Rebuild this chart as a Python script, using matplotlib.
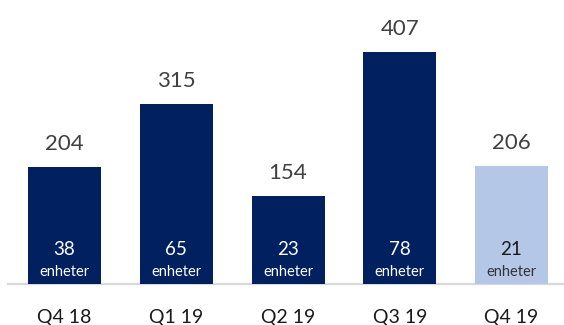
import matplotlib
matplotlib.use("Agg")
import matplotlib.pyplot as plt

categories = ["Q4 18", "Q1 19", "Q2 19", "Q3 19", "Q4 19"]
values = [204, 315, 154, 407, 206]
units = [38, 65, 23, 78, 21]

navy = "#002060"
light = "#B4C7E7"
bar_colors = [navy, navy, navy, navy, light]
num_colors = ["white"] * 4 + ["#1a1a1a"]
unit_colors = ["white"] * 4 + ["#333333"]

plt.rcParams['font.family'] = ['Lato', 'DejaVu Sans']

W, H = 564, 325
fig = plt.figure(figsize=(W / 100, H / 100), dpi=100)
base_px = 283.5
ax = fig.add_axes([0, (H - base_px) / H, 1, base_px / H])

spacing = 111.75
x0 = -64.5 / spacing
x1 = x0 + W / spacing
ax.set_xlim(x0, x1)
ax.set_ylim(0, base_px / 0.57)

xs = list(range(len(categories)))
ax.bar(xs, values, width=73 / spacing, color=bar_colors, zorder=2)

for x, v, u, nc, uc, c in zip(xs, values, units, num_colors, unit_colors, categories):
    ax.annotate(str(v), (x, v), xytext=(0, 17), textcoords="offset pixels",
                ha="center", va="baseline", fontsize=16, color="#404040")
    ax.annotate(str(u), (x, 0), xytext=(0, 28.5), textcoords="offset pixels",
                ha="center", va="baseline", fontsize=13.5, color=nc, zorder=3)
    ax.annotate("enheter", (x, 0), xytext=(0, 7.5), textcoords="offset pixels",
                ha="center", va="baseline", fontsize=10.5, color=uc, zorder=3)
    ax.annotate(c, (x, 0), xytext=(0, -40), textcoords="offset pixels",
                ha="center", va="baseline", fontsize=14, color="#1a1a1a",
                annotation_clip=False)

ax.axhline(0, xmin=8 / W, xmax=1, color="#D9D9D9", linewidth=1.6, zorder=1,
           clip_on=False)
ax.axis("off")

fig.savefig("out.png", dpi=100)
